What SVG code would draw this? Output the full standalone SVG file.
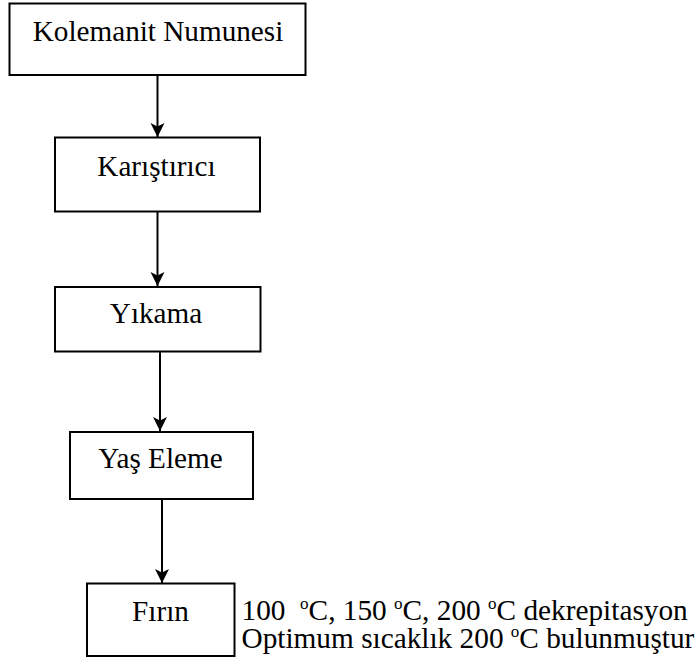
<svg xmlns="http://www.w3.org/2000/svg" width="699" height="666" viewBox="0 0 699 666">
  <defs>
    <style>
      .box { fill: #ffffff; stroke: #000000; stroke-width: 2; }
      .lbl { font-family: "Liberation Serif", "Times New Roman", serif; font-size: 29.2px; fill: #000000; text-anchor: middle; }
      .note { font-family: "Liberation Serif", "Times New Roman", serif; font-size: 29.3px; fill: #000000; white-space: pre; }
      .sup { font-size: 17px; }
      .link { fill: none; stroke: #000000; stroke-width: 2; }
    </style>
    <marker id="arrow" markerUnits="userSpaceOnUse" markerWidth="16" markerHeight="16" refX="14" refY="7" orient="auto">
      <path d="M14,7 L0,0 L3.5,7 L0,14 Z" fill="#000000"/>
    </marker>
  </defs>
  <rect width="699" height="666" fill="#ffffff"/>

  <g id="connectors">
    <line class="link" x1="157.5" y1="75" x2="157.5" y2="137" marker-end="url(#arrow)"/>
    <line class="link" x1="157.5" y1="212" x2="157.5" y2="286" marker-end="url(#arrow)"/>
    <line class="link" x1="160" y1="352" x2="160" y2="431" marker-end="url(#arrow)"/>
    <line class="link" x1="162" y1="499.5" x2="162" y2="583" marker-end="url(#arrow)"/>
  </g>

  <g id="kolemanit-numunesi">
    <rect class="box" x="9.5" y="3.5" width="296" height="71.5"/>
    <text class="lbl" x="158" y="41">Kolemanit Numunesi</text>
  </g>

  <g id="karistirici">
    <rect class="box" x="55" y="137.5" width="205" height="74"/>
    <text class="lbl" x="156.5" y="176">Karıştırıcı</text>
  </g>

  <g id="yikama">
    <rect class="box" x="55" y="287" width="205.5" height="64.5"/>
    <text class="lbl" x="156" y="322.5">Yıkama</text>
  </g>

  <g id="yas-eleme">
    <rect class="box" x="70" y="432" width="183" height="67"/>
    <text class="lbl" x="160.5" y="468">Yaş Eleme</text>
  </g>

  <g id="firin">
    <rect class="box" x="87" y="583.5" width="147.5" height="72.5"/>
    <text class="lbl" x="160.5" y="621">Fırın</text>
  </g>

  <g id="firin-note">
    <text class="note" x="241.5" y="620"><tspan>100  </tspan><tspan class="sup" dy="-11">o</tspan><tspan dy="11">C, 150 </tspan><tspan class="sup" dy="-11">o</tspan><tspan dy="11">C, 200 </tspan><tspan class="sup" dy="-11">o</tspan><tspan dy="11">C dekrepitasyon</tspan><tspan x="241.5" dy="28">Optimum sıcaklık 200 </tspan><tspan class="sup" dy="-11">o</tspan><tspan dy="11">C bulunmuştur</tspan></text>
  </g>
</svg>
